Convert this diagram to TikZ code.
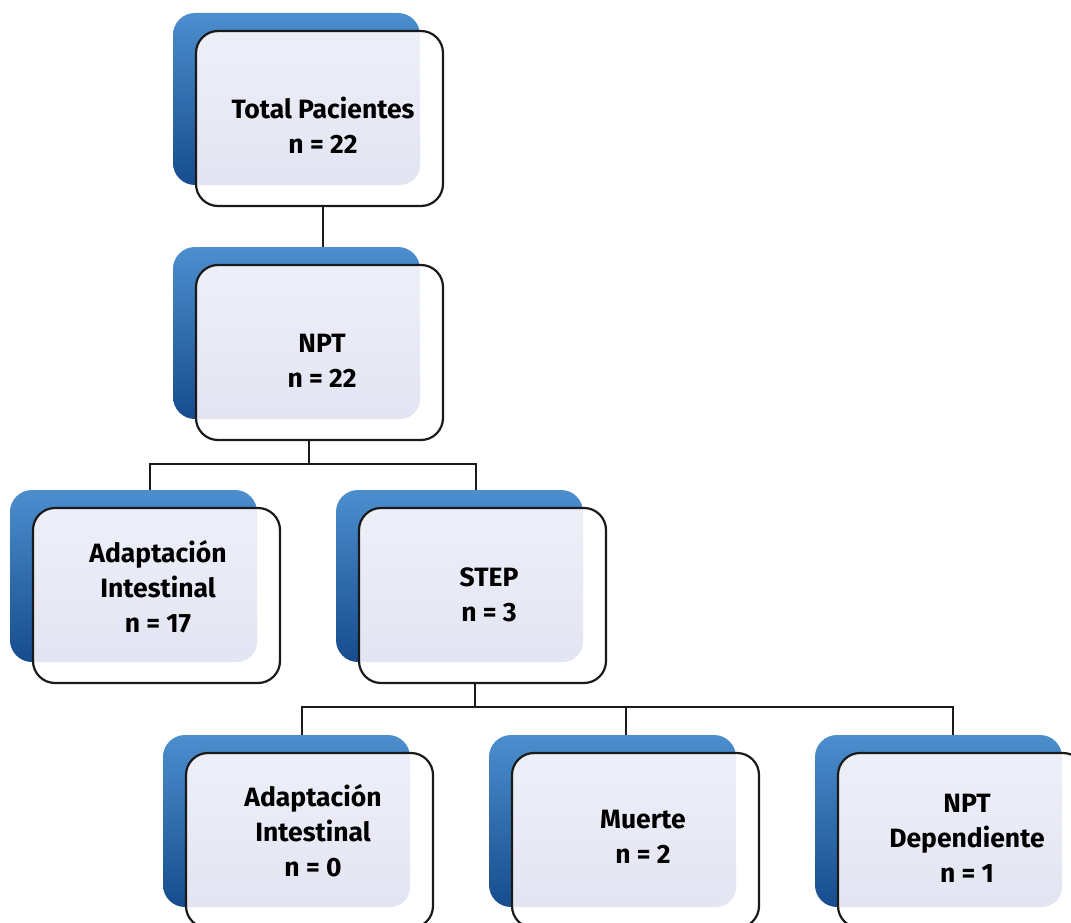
\documentclass[tikz,border=0pt]{standalone}
\usepackage{fontspec}
\setmainfont{Fira Sans}
\definecolor{blueTop}{RGB}{76,142,206}
\definecolor{blueBot}{RGB}{22,76,142}
\definecolor{lavTop}{RGB}{238,240,249}
\definecolor{lavBot}{RGB}{226,227,241}
\definecolor{edge}{RGB}{26,26,26}
\tikzset{
  backbox/.style={rectangle, rounded corners=22pt, minimum width=247pt, minimum height=172pt,
    inner sep=0pt, outer sep=0pt, top color=blueTop, bottom color=blueBot, draw=none},
  frontbox/.style={rectangle, rounded corners=22pt, minimum width=247pt, minimum height=175pt,
    inner sep=0pt, outer sep=0pt, fill=white, draw=edge, line width=2.2pt},
  lbl/.style={align=center, font=\bfseries\fontsize{26.5}{35}\selectfont, inner sep=0pt, text=black},
  conn/.style={draw=edge, line width=2pt},
}
\newcommand\flowbox[6]{%
  % #1 name, #2 x, #3 y (back top-left), #4 text, #5 text x, #6 text y
  \node[backbox] (#1b) at (#2+123.5,#3+86) {};
  \node[frontbox, path picture={\shade[top color=lavTop, bottom color=lavBot, rounded corners=20pt]
      (#1b.south west) rectangle (#1b.north east);}] (#1f) at (#2+146.5,#3+105.5) {};
  \node[lbl] (#1t) at (#5,#6) {#4};
}
\begin{document}
\begin{tikzpicture}[x=1pt,y=-1pt]
\useasboundingbox (0,0) rectangle (1071,923);
\clip (0,0) rectangle (1071,923);
\flowbox{ta}{173}{13}{Total Pacientes\\n = 22}{323}{125}
\flowbox{np}{173}{247}{NPT\\n = 22}{322}{361}
\flowbox{ai}{10}{490}{Adaptación\\Intestinal\\n = 17}{158}{587}
\flowbox{st}{336}{490}{STEP\\n = 3}{489}{595}
\flowbox{az}{163}{735}{Adaptación\\Intestinal\\n = 0}{313}{831}
\flowbox{mu}{489}{735}{Muerte\\n = 2}{643}{837}
\flowbox{nd}{815}{735}{NPT\\Dependiente\\n = 1}{967}{838}
% connectors
\path[conn] ([xshift=3.5pt]taf.south) -- ([xshift=3.5pt]taf.south |- npb.north);
\coordinate (j1) at ([xshift=-10.5pt,yshift=-24pt]npf.south);
\path[conn] ([xshift=-10.5pt]npf.south) -- (j1);
\path[conn] ([xshift=16.5pt]aib.north) |- (j1) -| ([xshift=16.5pt]stb.north);
\coordinate (j2) at ([xshift=-7.5pt,yshift=-24pt]stf.south);
\path[conn] ([xshift=-7.5pt]stf.south) -- (j2);
\path[conn] ([xshift=15.5pt]azb.north) |- (j2) -| ([xshift=14.5pt]ndb.north);
\path[conn] ([xshift=13.5pt]mub.north) -- ([xshift=13.5pt]mub.north |- j2);
\end{tikzpicture}
\end{document}
